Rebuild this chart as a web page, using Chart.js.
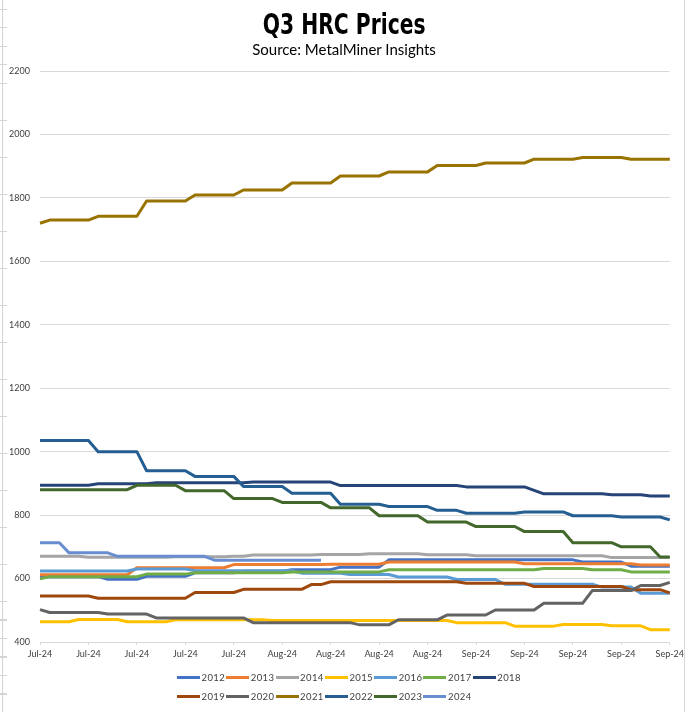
<!DOCTYPE html>
<html>
<head>
<meta charset="utf-8">
<title>Q3 HRC Prices</title>
<script src="https://cdn.jsdelivr.net/npm/chart.js@4.4.1/dist/chart.umd.min.js"></script>
<style>
  html, body { margin: 0; padding: 0; background: #fff; }
  #wrap { position: relative; width: 688px; height: 712px; overflow: hidden; font-family: Lato, sans-serif; }
  #chart { position: absolute; left: 0; top: 0; }
  .head { position: absolute; left: 0; width: 688px; text-align: center; white-space: nowrap; color: #000; }
  #title { top: 10px; }
  #title span { display: inline-block; font-family: "DejaVu Sans Condensed", "DejaVu Sans", sans-serif; font-weight: bold;
                font-size: 27.5px; line-height: 28px; transform: scaleX(0.82); transform-origin: center; }
  #subtitle { top: 42px; font-size: 15px; line-height: 15px; }
  #legend { position: absolute; left: 177px; top: 668px; width: 360px; }
  .row { height: 19px; line-height: 19px; white-space: nowrap; }
  .item { display: inline-flex; align-items: center; width: 49.3px; height: 19px; vertical-align: top; }
  .swatch { width: 23px; height: 3px; margin-right: 1.5px; }
  .lbl { font-size: 9.5px; color: #404040; letter-spacing: 0.4px; }
  #sheetL { position: absolute; left: 2px; top: 0; width: 1px; height: 712px; background: #d4d4d4; }
  #ticksL { position: absolute; left: 0; top: 0; width: 7px; height: 712px;
            background: repeating-linear-gradient(to bottom, transparent 0, transparent 9px, #d4d4d4 9px, #d4d4d4 10px, transparent 10px, transparent 18.5px); }
  #sheetR { position: absolute; left: 684px; top: 0; width: 1px; height: 712px; background: #d9d9d9; }
</style>
</head>
<body>
<div id="wrap">
  <div id="sheetL"></div>
  <div id="ticksL"></div>
  <div id="sheetR"></div>
  <canvas id="chart" width="688" height="712"></canvas>
  <div class="head" id="title"><span>Q3 HRC Prices</span></div>
  <div class="head" id="subtitle">Source: MetalMiner Insights</div>
  <div id="legend"></div>
</div>
<script>
// x axis tick labels, one every 5 trading days
const tickLabels = ['Jul-24', 'Jul-24', 'Jul-24', 'Jul-24', 'Jul-24',
                    'Aug-24', 'Aug-24', 'Aug-24', 'Aug-24',
                    'Sep-24', 'Sep-24', 'Sep-24', 'Sep-24', 'Sep-24'];

const years = ['2012', '2013', '2014', '2015', '2016', '2017', '2018',
               '2019', '2020', '2021', '2022', '2023', '2024'];

// HRC price per day, $/st
const s2012 = [606,606,606,606,606,606,606, 598,598,598,598, 607,607,607,607,607,
  618,618,618,618,618, 623,623,623,623,623, 628,628,628,628,628, 636,636,636,636,636,
  659,659,659,659,659,659,659,659,659,659, 659,659,659,659,659,659,659,659,659,659,
  652,652,652,652,652, 639,639,639,639,639];
const s2013 = [612,612,612,612,612,612,612,612,612,612, 634,634,634,634,634,634,634,634,634,634,
  644,644,644,644,644,644,644,644,644,644, 645,645,645,645,645,645,
  652,652,652,652,652,652,652,652,652,652,652,652,652,652,
  647,647,647,647,647,647,647,647,647,647,647,647, 643,643,643,643];
const s2014 = [670,670,670,670,670, 667,667,667,667,667,667,667,667,667, 669,669,669,669,669,669,
  670,670, 674,674,674,674,674,674,674, 676,676,676,676,676, 678,678,678,678,678,678,
  675,675,675,675,675, 672,672,672,672,672,672,672,672,672,672,672,672,672,672,
  666,666,666,666,666,666,666];
const s2015 = [464,464,464,464, 471,471,471,471,471, 464,464,464,464,464,
  470,470,470,470,470,470,470,470,470,470,
  468,468,468,468,468,468,468,468,468,468, 468,468,468,468,468,468,468,468,468,
  461,461,461,461,461,461, 450,450,450,450,450, 455,455,455,455,455,
  451,451,451,451, 439,439,439];
const s2016 = [624,624,624,624,624,624,624,624,624,624, 630,630,630,630,630,630,
  625,625,625,625,625,625,625,625,625,625,625, 617,617,617,617,617, 613,613,613,613,613,
  605,605,605,605,605,605, 597,597,597,597,597, 582,582,582,582,582,582,582,582,582,582,
  573,573,573,573, 554,554,554,554];
const s2017 = [599, 606,606,606,606,606,606,606,606,606,606, 614,614,614,614,614,
  618,618,618,618,618,618,618,618,618,618, 621,621,621,621,621,621,621,621,621,621,
  628,628,628,628,628,628,628,628,628,628,628,628,628,628,628,628,
  632,632,632,632,632, 628,628,628,628, 621,621,621,621,621];
const s2018 = [894,894,894,894,894,894, 899,899,899,899,899,899,
  902,902,902,902,902,902,902,902,902,902, 904,904,904,904,904,904,904,904,904,
  893,893,893,893,893,893,893,893,893,893,893,893,893, 889,889,889,889,889,889,889,
  878, 867,867,867,867,867,867,867, 864,864,864,864, 860,860,860];
const s2019 = [545,545,545,545,545,545, 538,538,538,538,538,538,538,538,538,538,
  556,556,556,556,556, 566,566,566,566,566,566,566, 581,581,
  590,590,590,590,590,590,590,590,590,590,590,590,590,590, 585,585,585,585,585,585,585,
  575,575,575,575,575,575,575,575,575,575, 565,565,565,565, 555];
const s2020 = [502, 493,493,493,493,493,493, 488,488,488,488,488,
  476,476,476,476,476,476,476,476,476,476, 461,461,461,461,461,461,461,461,461,461,461,
  454,454,454,454, 470,470,470,470,470, 485,485,485,485,485, 501,501,501,501,501,
  522,522,522,522,522, 562,562,562,562,562, 578,578,578, 588];
const s2021 = [1720, 1730,1730,1730,1730,1730, 1742,1742,1742,1742,1742, 1790,1790,1790,1790,1790,
  1809,1809,1809,1809,1809, 1825,1825,1825,1825,1825, 1847,1847,1847,1847,1847,
  1869,1869,1869,1869,1869, 1882,1882,1882,1882,1882, 1902,1902,1902,1902,1902,
  1910,1910,1910,1910,1910, 1922,1922,1922,1922,1922, 1927,1927,1927,1927,1927,
  1922,1922,1922,1922,1922];
const s2022 = [1035,1035,1035,1035,1035,1035, 1000,1000,1000,1000,1000, 940,940,940,940,940,
  922,922,922,922,922, 890,890,890,890,890, 869,869,869,869,869, 834,834,834,834,834,
  827,827,827,827,827, 815,815,815, 806,806,806,806,806,806, 810,810,810,810,810,
  798,798,798,798,798, 794,794,794,794,794, 785];
const s2023 = [880,880,880,880,880,880,880,880,880,880, 894,894,894,894,894, 877,877,877,877,877,
  852,852,852,852,852, 840,840,840,840,840, 823,823,823,823,823, 798,798,798,798,798,
  778,778,778,778,778, 764,764,764,764,764, 748,748,748,748,748, 713,713,713,713,713,
  700,700,700,700, 668,668];
const s2024 = [713,713,713, 681,681,681,681,681, 670,670,670,670,670,670,670,670,670,670,
  658,658,658,658,658,658,658,658,658,658,658,658];

const series = [s2012, s2013, s2014, s2015, s2016, s2017, s2018,
                s2019, s2020, s2021, s2022, s2023, s2024];
const colors = ['#4472C4', '#ED7D31', '#A5A5A5', '#FFC000', '#5B9BD5', '#70AD47', '#264478',
                '#9E480E', '#636363', '#997300', '#255E91', '#43682B', '#698ED0'];

// one category per trading day, label shown on every 5th
const categories = s2012.map((_, i) => (i % 5 === 0 ? tickLabels[i / 5] : ''));

const datasets = years.map((y, k) => ({
    label: y,
    data: series[k],
    borderColor: colors[k],
    backgroundColor: colors[k],
    order: years.length - k
}));

const chart = new Chart(document.getElementById('chart'), {
    type: 'line',
    data: { labels: categories, datasets: datasets },
    options: {
        responsive: false,
        animation: false,
        layout: { padding: { top: 71, right: 16, bottom: 40, left: 0 } },
        plugins: { legend: { display: false }, tooltip: { enabled: false }, title: { display: false } },
        elements: {
            point: { radius: 0 },
            line: { tension: 0, borderWidth: 3, borderJoinStyle: 'round', fill: false }
        },
        scales: {
            x: {
                grid: { display: true, drawOnChartArea: false, drawTicks: true, tickLength: 3, color: '#D9D9D9' },
                border: { display: true, color: '#D9D9D9' },
                ticks: {
                    autoSkip: false, maxRotation: 0, minRotation: 0, padding: 4,
                    color: '#404040', font: { family: 'Lato', size: 9 },
                    callback: (v, i) => categories[i] || null
                },
                afterFit: s => { s.height = 30; }
            },
            y: {
                min: 400, max: 2200,
                ticks: { stepSize: 200, padding: 10, color: '#404040', font: { family: 'Lato', size: 9 },
                         callback: v => String(v) },
                grid: { color: '#D9D9D9', drawTicks: false },
                border: { display: false },
                afterFit: s => { s.width = 40; }
            }
        }
    }
});

// legend: 7 entries on the first row, 6 on the second
const legend = document.getElementById('legend');
[chart.data.datasets.slice(0, 7), chart.data.datasets.slice(7)].forEach(rowSets => {
    const row = document.createElement('div');
    row.className = 'row';
    rowSets.forEach(ds => {
        const item = document.createElement('span');
        item.className = 'item';
        item.innerHTML = '<span class="swatch" style="background:' + ds.borderColor + '"></span>' +
                         '<span class="lbl">' + ds.label + '</span>';
        row.appendChild(item);
    });
    legend.appendChild(row);
});
</script>
</body>
</html>
